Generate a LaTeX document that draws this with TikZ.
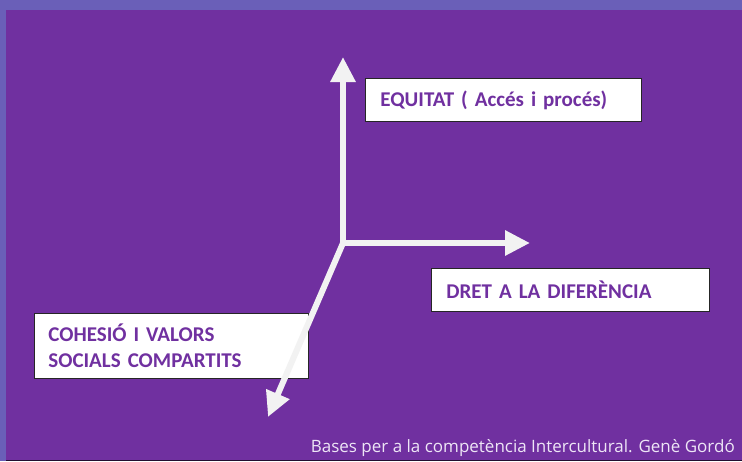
\documentclass[tikz,border=0pt]{standalone}
\usepackage{fontspec}
\setmainfont{Carlito}
\newfontfamily\peufont{Open Sans}
\usetikzlibrary{arrows.meta,positioning}

\definecolor{marclila}{HTML}{6A5FB8}
\definecolor{fonslila}{HTML}{7030A0}
\definecolor{textlila}{HTML}{7030A0}
\definecolor{fletxablanca}{HTML}{F2F2F2}
\definecolor{peuclar}{HTML}{EEE6F6}

\begin{document}
\begin{tikzpicture}[x=1pt, y=-1pt,
boxnode/.style={draw=black!85, fill=white, line width=0.8pt, inner xsep=15pt, inner ysep=0pt, minimum height=43pt, text width=248pt, align=left, anchor=north west, font=\fontsize{21}{26}\selectfont\bfseries, text=textlila},
axisarrow/.style={draw=fletxablanca, line width=6pt, line cap=rect, -{Triangle[width=24pt,length=25pt]}},
footnode/.style={anchor=base east, inner sep=0pt, text=peuclar, font=\peufont\fontsize{17}{20}\selectfont},
]
%Background
\useasboundingbox (0,0) rectangle (742,461);
\fill[marclila] (0,0) rectangle (742,461);
\fill[fonslila] (6,10) rectangle (742,460);
\fill[black!70!fonslila] (6,460) rectangle (742,461);

%Nodes
\coordinate (o) at (343,243);
\coordinate (tipV) at (343,57);
\coordinate (tipH) at (530,243);
\coordinate (tipD) at (268,417);
\node[boxnode, text width=246pt] (equitat) at (365,78) {EQUITAT ( Accés i procés)};
\node[boxnode] (dret) at (431,268) {DRET A LA DIFERÈNCIA};
\node[boxnode, text width=246pt, inner xsep=14pt, minimum height=65pt] (cohesio) at (34,313) {COHESIÓ I VALORS\\SOCIALS COMPARTITS};
\node[footnode] (peu) at (735,452) {Bases per a la competència Intercultural. Genè Gordó};

%Lines
\draw[axisarrow] (o) -- (tipV);
\draw[axisarrow] (o) -- (tipH);
\draw[axisarrow] (o) -- (tipD);

\end{tikzpicture}
\end{document}
